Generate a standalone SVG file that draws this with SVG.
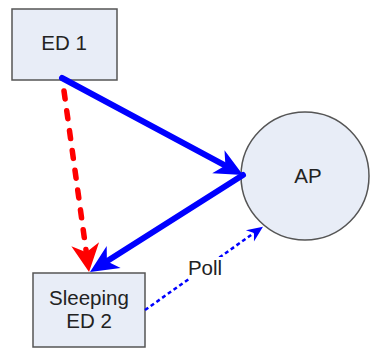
<svg xmlns="http://www.w3.org/2000/svg" width="370" height="349" viewBox="0 0 370 349">
<style>
.node{fill:#e8edf7;stroke:#555;stroke-width:1.5}
.lbl{font-family:"Liberation Sans",Arial,sans-serif;font-size:20.5px;fill:#222;text-anchor:middle}
.thick{fill:none;stroke:#0000ff;stroke-width:6;stroke-linecap:round}
.red{fill:none;stroke:#ff0000;stroke-width:5.5;stroke-linecap:round;stroke-dasharray:8 12}
.dot{fill:none;stroke:#0000ff;stroke-width:2.5;stroke-dasharray:4 3}
</style>
<defs>
<marker id="hb" markerUnits="userSpaceOnUse" viewBox="-30 -15 32 30" refX="-20" refY="0" markerWidth="32" markerHeight="30" orient="auto">
<path d="M0,0 L-28,-13 L-20,0 L-28,13 Z" fill="#0000ff"/>
</marker>
<marker id="hr" markerUnits="userSpaceOnUse" viewBox="-30 -15 32 30" refX="-20" refY="0" markerWidth="32" markerHeight="30" orient="auto">
<path d="M0,0 L-28,-14 L-20,0 L-28,14 Z" fill="#ff0000"/>
</marker>
<marker id="hs" markerUnits="userSpaceOnUse" viewBox="-18 -9 20 18" refX="-11" refY="0" markerWidth="20" markerHeight="18" orient="auto">
<path d="M0,0 L-16,-7 L-11,0 L-16,7 Z" fill="#0000ff"/>
</marker>
</defs>
<g id="ed1">
<rect class="node" x="12" y="9" width="105" height="71"/>
<text class="lbl" x="64" y="50">ED 1</text>
</g>
<g id="ap">
<circle class="node" cx="305" cy="176" r="64"/>
<text class="lbl" x="308" y="183">AP</text>
</g>
<g id="ed2">
<rect class="node" x="33" y="273" width="112" height="74"/>
<text class="lbl" x="89" y="305">Sleeping</text>
<text class="lbl" x="89" y="328">ED 2</text>
</g>
<g id="connectors">
<line class="thick" x1="62" y1="78" x2="225.4" y2="165.6" marker-end="url(#hb)"/>
<line class="thick" x1="243" y1="175" x2="106.9" y2="261.3" marker-end="url(#hb)"/>
<line class="red" x1="64" y1="91" x2="86.3" y2="252.2" marker-end="url(#hr)"/>
<line class="dot" x1="145" y1="310" x2="254" y2="233" marker-end="url(#hs)"/>
<rect x="189" y="257" width="33" height="23" fill="#ffffff"/>
<text class="lbl" x="205" y="275">Poll</text>
</g>
</svg>
